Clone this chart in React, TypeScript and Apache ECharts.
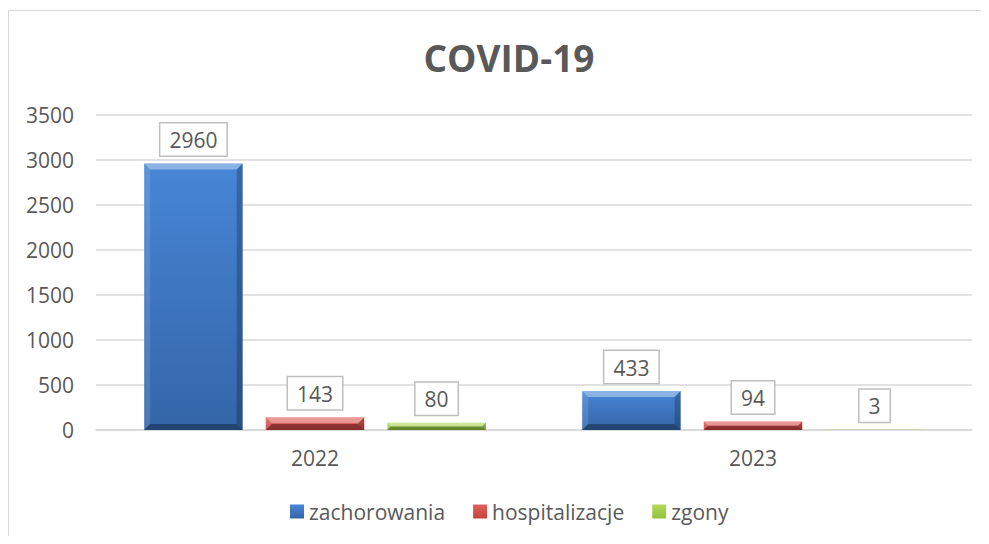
import React, { useEffect, useRef } from "react";
import * as echarts from "echarts";

const categories = ["2022", "2023"];
const seriesNames = ["zachorowania", "hospitalizacje", "zgony"];
const zachorowania = [2960, 433];
const hospitalizacje = [143, 94];
const zgony = [80, 3];
const yTicks = { min: 0, max: 3500, interval: 500 };

const mainColors = [
  ["#4786d6", "#3465a8"],
  ["#e0605c", "#c7423f"],
  ["#b2da5c", "#94c13c"],
];

const CAT_GAP = 0.22;
const BAR_GAP = 0.235;

export default function App() {
  const ref = useRef<HTMLDivElement>(null);
  useEffect(() => {
    if (!ref.current) return;
    const chart = echarts.init(ref.current, undefined, { renderer: "svg" });
    const values = [zachorowania, hospitalizacje, zgony];
    const bevelData: number[][] = [];
    values.forEach((arr, s) => arr.forEach((v, c) => bevelData.push([c, v, s])));

    const barSeries = values.map((arr, s) => ({
      type: "bar",
      name: seriesNames[s],
      data: arr,
      barGap: BAR_GAP * 100 + "%",
      barCategoryGap: CAT_GAP * 100 + "%",
      itemStyle: {
        color: new echarts.graphic.LinearGradient(0, 0, 0, 1, [
          { offset: 0, color: mainColors[s][0] },
          { offset: 1, color: mainColors[s][1] },
        ]),
      },
      label: {
        show: true,
        position: "top",
        distance: 8,
        color: "#595959",
        fontSize: 21,
        fontFamily: "Open Sans",
        backgroundColor: "#ffffff",
        borderColor: "#bfbfbf",
        borderWidth: 1.5,
        padding: [6, 9, 5, 9],
      },
      z: 2,
    }));

    const bevel = {
      type: "custom",
      silent: true,
      z: 3,
      data: bevelData,
      renderItem: (_p: any, api: any) => {
        const c = api.value(0);
        const v = api.value(1);
        const s = api.value(2);
        const top = api.coord([c, v]);
        const base = api.coord([c, 0]);
        const band = api.size([1, 0])[0];
        const w = (band * (1 - CAT_GAP)) / (3 + 2 * BAR_GAP);
        const gap = w * BAR_GAP;
        const x0 = top[0] - (3 * w + 2 * gap) / 2 + s * (w + gap);
        const x1 = x0 + w;
        const y0 = top[1];
        const y1 = base[1];
        const h = y1 - y0;
        if (h < 1) return null;
        const b = Math.min(6, h / 2, w / 2);
        return {
          type: "group",
          children: [
            {
              type: "polygon",
              shape: { points: [[x0, y0], [x1, y0], [x1 - b, y0 + b], [x0 + b, y0 + b]] },
              style: { fill: "rgba(255,255,255,0.38)" },
            },
            {
              type: "polygon",
              shape: { points: [[x0, y0], [x0 + b, y0 + b], [x0 + b, y1 - b], [x0, y1]] },
              style: { fill: "rgba(255,255,255,0.12)" },
            },
            {
              type: "polygon",
              shape: { points: [[x1, y0], [x1 - b, y0 + b], [x1 - b, y1 - b], [x1, y1]] },
              style: { fill: "rgba(0,0,0,0.22)" },
            },
            {
              type: "polygon",
              shape: { points: [[x0, y1], [x1, y1], [x1 - b, y1 - b], [x0 + b, y1 - b]] },
              style: { fill: "rgba(0,0,0,0.32)" },
            },
          ],
        };
      },
    };

    chart.setOption({
      animation: false,
      backgroundColor: "#ffffff",
      textStyle: { fontFamily: "Open Sans" },
      title: {
        text: "COVID-19",
        left: 496,
        textAlign: "center",
        top: 26,
        textStyle: {
          fontFamily: "Open Sans",
          fontSize: 37,
          fontWeight: "bold",
          color: "#595959",
        },
      },
      graphic: [
        {
          type: "line",
          shape: { x1: 0.5, y1: 2.5, x2: 0.5, y2: 600 },
          style: { stroke: "#d9d9d9", lineWidth: 1 },
          silent: true,
        },
        {
          type: "line",
          shape: { x1: 0.5, y1: 2.5, x2: 1200, y2: 2.5 },
          style: { stroke: "#d9d9d9", lineWidth: 1 },
          silent: true,
        },
      ],
      legend: {
        data: seriesNames,
        left: 277,
        top: 488,
        itemWidth: 14,
        itemHeight: 14,
        itemGap: 28,
        icon: "rect",
        textStyle: { fontFamily: "Open Sans", fontSize: 21, color: "#595959" },
      },
      grid: { left: 88, right: 17, top: 107, bottom: 106 },
      xAxis: {
        type: "category",
        data: categories,
        axisTick: { show: false },
        axisLine: { lineStyle: { color: "#d9d9d9", width: 1.5 } },
        axisLabel: { color: "#595959", fontSize: 21, margin: 17, fontFamily: "Open Sans" },
      },
      yAxis: {
        type: "value",
        min: yTicks.min,
        max: yTicks.max,
        interval: yTicks.interval,
        axisLine: { show: false },
        axisTick: { show: false },
        axisLabel: {
          color: "#595959",
          fontSize: 21,
          margin: 22,
          fontFamily: "Open Sans",
          formatter: (v: number) => String(v),
        },
        splitLine: { lineStyle: { color: "#d9d9d9", width: 1.5 } },
      },
      series: [...barSeries, bevel],
    });
    return () => chart.dispose();
  }, []);
  return <div ref={ref} style={{ width: 981, height: 528 }} />;
}
